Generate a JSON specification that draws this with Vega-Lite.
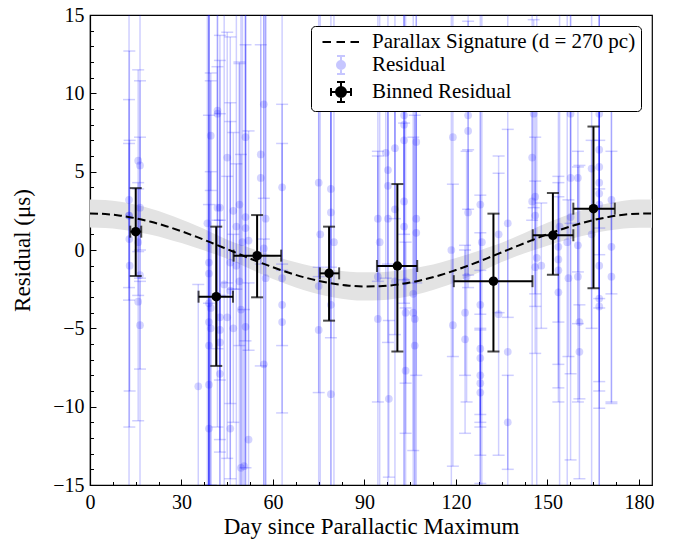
{
  "$schema": "https://vega.github.io/schema/vega-lite/v6.json",
  "width": 562,
  "height": 470,
  "autosize": {"type": "none"},
  "padding": {"left": 90, "top": 15, "right": 21, "bottom": 57},
  "background": "white",
  "config": {
    "view": {"stroke": "black", "strokeWidth": 1.2},
    "font": "'Liberation Serif', serif",
    "axis": {
      "labelFont": "'Liberation Serif', serif", "titleFont": "'Liberation Serif', serif",
      "labelFontSize": 20, "titleFontSize": 23, "titleFontWeight": "normal",
      "labelColor": "black", "titleColor": "black", "domainColor": "black", "tickColor": "black",
      "grid": false, "labelFlush": false, "labelOverlap": false, "domainWidth": 1.2, "tickWidth": 1
    },
    "legend": {
      "labelFont": "'Liberation Serif', serif", "labelFontSize": 21, "labelColor": "black", "labelLimit": 500,
      "strokeColor": "black", "fillColor": "white", "cornerRadius": 4, "padding": 5,
      "rowPadding": 0, "symbolStrokeWidth": 2, "labelOffset": 20, "symbolSize": 400, "symbolOffset": 14
    }
  },
  "resolve": {"axis": {"x": "independent", "y": "independent"}},
  "datasets": {
    "curve": [
      {"t": 0, "v": 2.33, "lo": 1.43, "hi": 3.23},
      {"t": 5, "v": 2.296, "lo": 1.4, "hi": 3.19},
      {"t": 10, "v": 2.193, "lo": 1.311, "hi": 3.075},
      {"t": 15, "v": 2.026, "lo": 1.165, "hi": 2.887},
      {"t": 20, "v": 1.8, "lo": 0.968, "hi": 2.632},
      {"t": 25, "v": 1.52, "lo": 0.724, "hi": 2.316},
      {"t": 30, "v": 1.195, "lo": 0.441, "hi": 1.949},
      {"t": 35, "v": 0.835, "lo": 0.127, "hi": 1.543},
      {"t": 40, "v": 0.45, "lo": -0.208, "hi": 1.108},
      {"t": 45, "v": 0.052, "lo": -0.555, "hi": 0.659},
      {"t": 50, "v": -0.347, "lo": -0.992, "hi": 0.298},
      {"t": 55, "v": -0.737, "lo": -1.432, "hi": -0.042},
      {"t": 60, "v": -1.104, "lo": -1.846, "hi": -0.362},
      {"t": 65, "v": -1.439, "lo": -2.224, "hi": -0.654},
      {"t": 70, "v": -1.73, "lo": -2.553, "hi": -0.907},
      {"t": 75, "v": -1.973, "lo": -2.827, "hi": -1.119},
      {"t": 80, "v": -2.155, "lo": -3.033, "hi": -1.277},
      {"t": 85, "v": -2.276, "lo": -3.169, "hi": -1.383},
      {"t": 90, "v": -2.328, "lo": -3.228, "hi": -1.428},
      {"t": 95, "v": -2.311, "lo": -3.209, "hi": -1.413},
      {"t": 100, "v": -2.226, "lo": -3.113, "hi": -1.339},
      {"t": 105, "v": -2.075, "lo": -2.942, "hi": -1.208},
      {"t": 110, "v": -1.863, "lo": -2.703, "hi": -1.023},
      {"t": 115, "v": -1.595, "lo": -2.4, "hi": -0.79},
      {"t": 120, "v": -1.28, "lo": -2.045, "hi": -0.515},
      {"t": 125, "v": -0.927, "lo": -1.646, "hi": -0.208},
      {"t": 130, "v": -0.547, "lo": -1.217, "hi": 0.123},
      {"t": 135, "v": -0.152, "lo": -0.772, "hi": 0.468},
      {"t": 140, "v": 0.244, "lo": -0.387, "hi": 0.875},
      {"t": 145, "v": 0.633, "lo": -0.048, "hi": 1.314},
      {"t": 150, "v": 1.004, "lo": 0.275, "hi": 1.733},
      {"t": 155, "v": 1.344, "lo": 0.571, "hi": 2.117},
      {"t": 160, "v": 1.647, "lo": 0.835, "hi": 2.459},
      {"t": 165, "v": 1.903, "lo": 1.058, "hi": 2.748},
      {"t": 170, "v": 2.109, "lo": 1.237, "hi": 2.981},
      {"t": 175, "v": 2.256, "lo": 1.365, "hi": 3.147},
      {"t": 180, "v": 2.32, "lo": 1.421, "hi": 3.219},
      {"t": 184.3, "v": 2.325, "lo": 1.425, "hi": 3.225}
    ],
    "bin": [
      {"x": 15.0, "y": 1.17, "ylo": -1.66, "yhi": 3.95, "xlo": 13.2, "xhi": 16.8},
      {"x": 41.4, "y": -2.98, "ylo": -7.4, "yhi": 1.49, "xlo": 35.6, "xhi": 46.9},
      {"x": 54.8, "y": -0.36, "ylo": -3.02, "yhi": 2.23, "xlo": 47.1, "xhi": 62.7},
      {"x": 78.4, "y": -1.49, "ylo": -4.51, "yhi": 1.49, "xlo": 75.4, "xhi": 81.7},
      {"x": 100.8, "y": -1.02, "ylo": -6.48, "yhi": 4.21, "xlo": 94.1, "xhi": 107.3},
      {"x": 132.3, "y": -1.99, "ylo": -6.48, "yhi": 2.32, "xlo": 119.3, "xhi": 145.1},
      {"x": 151.8, "y": 0.94, "ylo": -1.58, "yhi": 3.64, "xlo": 145.2, "xhi": 158.5},
      {"x": 165.1, "y": 2.64, "ylo": -2.44, "yhi": 7.88, "xlo": 158.5, "xhi": 172.1}
    ],
    "res": [
      {"x": 12.8, "y": 3.2, "e": 6.4}, {"x": 12.8, "y": 2.2, "e": 20}, {"x": 12.9, "y": 0.7, "e": 12},
      {"x": 13.0, "y": -1.0, "e": 8}, {"x": 12.8, "y": 2.2, "e": 4.6}, {"x": 15.8, "y": 5.7, "e": 5.8},
      {"x": 16.4, "y": 5.4, "e": 5.4}, {"x": 16.4, "y": 2.7, "e": 4.5}, {"x": 16.4, "y": -1.6, "e": 20},
      {"x": 15.8, "y": -3.3, "e": 7.6}, {"x": 16.4, "y": -4.8, "e": 2.8}, {"x": 15.8, "y": 0.5, "e": 3.4},
      {"x": 35.5, "y": -8.7, "e": 6.5}, {"x": 38.5, "y": 1.7, "e": 25}, {"x": 39.0, "y": -0.8, "e": 20},
      {"x": 39.0, "y": -1.5, "e": 30}, {"x": 39.0, "y": -3.4, "e": 12}, {"x": 39.0, "y": -4.6, "e": 25},
      {"x": 39.0, "y": -6.1, "e": 9}, {"x": 39.0, "y": -8.6, "e": 30}, {"x": 39.0, "y": -11.4, "e": 8},
      {"x": 39.6, "y": -3.7, "e": 15}, {"x": 39.6, "y": -5.0, "e": 10}, {"x": 41.8, "y": 8.9, "e": 7},
      {"x": 41.8, "y": 8.7, "e": 20}, {"x": 39.6, "y": 7.3, "e": 3.5}, {"x": 41.8, "y": 2.7, "e": 9},
      {"x": 42.6, "y": 2.7, "e": 11}, {"x": 42.6, "y": -5.1, "e": 7}, {"x": 42.6, "y": -5.9, "e": 18},
      {"x": 42.6, "y": -7.9, "e": 5}, {"x": 42.6, "y": -4.3, "e": 13}, {"x": 45.0, "y": 5.9, "e": 8},
      {"x": 45.0, "y": -4.3, "e": 9}, {"x": 46.0, "y": -0.8, "e": 9}, {"x": 46.0, "y": -2.6, "e": 12},
      {"x": 46.0, "y": -11.4, "e": 25}, {"x": 47.0, "y": 2.5, "e": 5}, {"x": 47.0, "y": -5.0, "e": 6},
      {"x": 48.0, "y": 1.5, "e": 4}, {"x": 49.0, "y": 2.9, "e": 9}, {"x": 49.0, "y": -2.0, "e": 14},
      {"x": 49.5, "y": -13.9, "e": 20}, {"x": 50.0, "y": 0.5, "e": 25}, {"x": 50.5, "y": -13.8, "e": 10},
      {"x": 51.0, "y": 7.2, "e": 13}, {"x": 51.0, "y": 2.1, "e": 16}, {"x": 51.0, "y": 1.4, "e": 22},
      {"x": 51.0, "y": -4.9, "e": 18}, {"x": 52.0, "y": 0.6, "e": 7}, {"x": 52.0, "y": -12.1, "e": 10},
      {"x": 49.5, "y": -3.8, "e": 25}, {"x": 48.0, "y": -1.0, "e": 30}, {"x": 44.0, "y": -2.2, "e": 20},
      {"x": 56.0, "y": 6.1, "e": 7}, {"x": 56.0, "y": 4.6, "e": 12}, {"x": 57.0, "y": 9.3, "e": 6},
      {"x": 57.0, "y": 0.1, "e": 18}, {"x": 57.6, "y": 2.0, "e": 25}, {"x": 57.0, "y": -7.3, "e": 8},
      {"x": 57.6, "y": -1.8, "e": 20},
      {"x": 63.0, "y": 4.0, "e": 5.3}, {"x": 63.0, "y": -1.8, "e": 8.6}, {"x": 63.0, "y": -3.5, "e": 2.6},
      {"x": 63.0, "y": -4.6, "e": 20},
      {"x": 75.0, "y": 4.3, "e": 6}, {"x": 75.0, "y": -2.3, "e": 18}, {"x": 75.0, "y": -5.1, "e": 4},
      {"x": 75.5, "y": 1.0, "e": 25}, {"x": 79.0, "y": 3.9, "e": 5}, {"x": 79.0, "y": 2.4, "e": 8},
      {"x": 79.0, "y": -3.5, "e": 25}, {"x": 79.0, "y": -9.2, "e": 20}, {"x": 80.0, "y": 0.5, "e": 20},
      {"x": 94.4, "y": 2.0, "e": 4}, {"x": 94.4, "y": -1.7, "e": 8}, {"x": 94.4, "y": -4.4, "e": 25},
      {"x": 95.0, "y": 0.5, "e": 25}, {"x": 97.0, "y": 6.2, "e": 8}, {"x": 97.7, "y": 5.1, "e": 6},
      {"x": 97.7, "y": 4.1, "e": 10}, {"x": 97.7, "y": 2.0, "e": 20}, {"x": 98.0, "y": -9.5, "e": 5},
      {"x": 100.0, "y": 6.5, "e": 4.5}, {"x": 100.0, "y": 2.6, "e": 8}, {"x": 100.0, "y": -2.0, "e": 25},
      {"x": 103.0, "y": 8.6, "e": 12}, {"x": 103.0, "y": 8.0, "e": 25}, {"x": 103.0, "y": 7.0, "e": 6},
      {"x": 103.0, "y": 3.1, "e": 5}, {"x": 103.0, "y": 1.5, "e": 20}, {"x": 103.5, "y": -4.0, "e": 4.5},
      {"x": 103.5, "y": -7.7, "e": 4}, {"x": 103.5, "y": -2.0, "e": 25}, {"x": 106.0, "y": -4.0, "e": 20},
      {"x": 106.0, "y": -2.8, "e": 10}, {"x": 106.5, "y": -6.1, "e": 18}, {"x": 107.0, "y": 6.9, "e": 9},
      {"x": 107.0, "y": 2.0, "e": 10}, {"x": 107.0, "y": 1.1, "e": 25}, {"x": 106.5, "y": -4.4, "e": 13},
      {"x": 119.0, "y": 7.2, "e": 14}, {"x": 119.0, "y": -4.8, "e": 9}, {"x": 118.5, "y": 0.0, "e": 25},
      {"x": 123.0, "y": -4.0, "e": 4}, {"x": 123.0, "y": -5.7, "e": 6}, {"x": 123.5, "y": -1.7, "e": 8},
      {"x": 124.0, "y": 8.6, "e": 6}, {"x": 124.0, "y": 7.6, "e": 10}, {"x": 124.0, "y": 2.4, "e": 4},
      {"x": 128.0, "y": 2.9, "e": 7}, {"x": 128.0, "y": -3.5, "e": 7}, {"x": 128.0, "y": -6.3, "e": 5},
      {"x": 128.0, "y": -6.9, "e": 8}, {"x": 128.0, "y": -8.0, "e": 3}, {"x": 128.0, "y": -8.5, "e": 25},
      {"x": 128.0, "y": -9.1, "e": 4}, {"x": 128.5, "y": 0.5, "e": 25}, {"x": 134.0, "y": -4.1, "e": 9},
      {"x": 134.0, "y": 1.0, "e": 5}, {"x": 137.0, "y": 1.7, "e": 6}, {"x": 137.0, "y": -6.5, "e": 25},
      {"x": 137.0, "y": -11.0, "e": 3},
      {"x": 145.0, "y": 5.9, "e": 4}, {"x": 145.0, "y": 3.1, "e": 20}, {"x": 145.5, "y": 8.7, "e": 6},
      {"x": 146.0, "y": 3.4, "e": 7}, {"x": 146.0, "y": 2.2, "e": 5}, {"x": 146.0, "y": -1.1, "e": 5.5},
      {"x": 146.5, "y": -0.5, "e": 25}, {"x": 148.0, "y": -1.0, "e": 4}, {"x": 153.6, "y": 0.2, "e": 9},
      {"x": 153.6, "y": -0.6, "e": 4}, {"x": 153.6, "y": -1.3, "e": 6}, {"x": 153.6, "y": -2.7, "e": 7},
      {"x": 154.0, "y": 1.5, "e": 20}, {"x": 156.9, "y": -1.8, "e": 5}, {"x": 157.6, "y": 8.7, "e": 7},
      {"x": 157.6, "y": 2.1, "e": 10}, {"x": 157.6, "y": 4.6, "e": 18}, {"x": 156.5, "y": 0.5, "e": 25},
      {"x": 160.0, "y": 4.6, "e": 6}, {"x": 160.0, "y": 0.3, "e": 5}, {"x": 160.0, "y": -1.7, "e": 8},
      {"x": 160.5, "y": -4.6, "e": 10}, {"x": 160.5, "y": -6.5, "e": 3}, {"x": 164.5, "y": 5.2, "e": 25},
      {"x": 164.5, "y": 1.0, "e": 6}, {"x": 167.0, "y": 8.7, "e": 9}, {"x": 167.0, "y": 6.4, "e": 5},
      {"x": 167.0, "y": 5.3, "e": 25}, {"x": 167.0, "y": 4.3, "e": 8}, {"x": 167.0, "y": 3.6, "e": 12},
      {"x": 167.0, "y": 2.9, "e": 6}, {"x": 167.0, "y": -1.0, "e": 8}, {"x": 167.0, "y": -3.1, "e": 7},
      {"x": 167.0, "y": -3.6, "e": 13}, {"x": 171.0, "y": 3.2, "e": 6}, {"x": 171.0, "y": 0.2, "e": 10},
      {"x": 171.0, "y": -1.7, "e": 8}
    ]
  },
  "layer": [
    {
      "data": {"name": "curve"},
      "mark": {"type": "area", "color": "#e3e3e3", "clip": true, "interpolate": "monotone"},
      "encoding": {
        "x": {"field": "t", "type": "quantitative",
          "scale": {"domain": [0, 184.3], "nice": false, "zero": false},
          "axis": {"title": "Day since Parallactic Maximum", "orient": "bottom",
            "values": [0, 30, 60, 90, 120, 150, 180],
            "labelOverlap": false, "tickSize": -6, "labelPadding": 13, "titlePadding": 3}},
        "y": {"field": "lo", "type": "quantitative",
          "scale": {"domain": [-15, 15], "nice": false, "zero": false},
          "axis": {"title": "Residual (μs)", "orient": "left",
            "values": [-15, -10, -5, 0, 5, 10, 15],
            "labelOverlap": false, "tickSize": -6, "labelPadding": 12, "titlePadding": 18}},
        "y2": {"field": "hi"}
      }
    },
    {
      "data": {"name": "res"},
      "mark": {"type": "errorbar", "clip": true, "color": "#0000ff", "opacity": 0.19, "thickness": 1.5, "ticks": true, "size": 12},
      "encoding": {
        "x": {"field": "x", "type": "quantitative",
          "axis": {"orient": "bottom", "title": null, "labels": false, "domain": false, "tickSize": -3.5,
            "values": [7.5, 15, 22.5, 37.5, 45, 52.5, 67.5, 75, 82.5, 97.5, 105, 112.5, 127.5, 135, 142.5, 157.5, 165, 172.5]}},
        "y": {"field": "y", "type": "quantitative",
          "axis": {"orient": "left", "title": null, "labels": false, "domain": false, "tickSize": -3.5,
            "values": [-14, -13, -12, -11, -9, -8, -7, -6, -4, -3, -2, -1, 1, 2, 3, 4, 6, 7, 8, 9, 11, 12, 13, 14]}},
        "yError": {"field": "e"}
      }
    },
    {
      "data": {"name": "res"},
      "mark": {"type": "circle", "color": "#0000ff", "opacity": 0.17, "size": 60, "clip": true},
      "encoding": {
        "x": {"field": "x", "type": "quantitative", "axis": null},
        "y": {"field": "y", "type": "quantitative", "axis": null}
      }
    },
    {
      "data": {"name": "curve"},
      "mark": {"type": "line", "color": "black", "strokeWidth": 2, "strokeDash": [8, 4], "interpolate": "monotone", "clip": true},
      "encoding": {
        "x": {"field": "t", "type": "quantitative", "axis": null},
        "y": {"field": "v", "type": "quantitative", "axis": null}
      }
    },
    {
      "data": {"name": "bin"},
      "mark": {"type": "errorbar", "color": "black", "thickness": 2, "ticks": true, "size": 12},
      "encoding": {
        "x": {"field": "x", "type": "quantitative", "axis": null},
        "y": {"field": "ylo", "type": "quantitative", "axis": null},
        "y2": {"field": "yhi"}
      }
    },
    {
      "data": {"name": "bin"},
      "mark": {"type": "errorbar", "color": "black", "thickness": 2, "ticks": true, "size": 12},
      "encoding": {
        "y": {"field": "y", "type": "quantitative", "axis": null},
        "x": {"field": "xlo", "type": "quantitative", "axis": null},
        "x2": {"field": "xhi"}
      }
    },
    {
      "data": {"name": "bin"},
      "mark": {"type": "circle", "color": "black", "opacity": 1, "size": 90},
      "encoding": {
        "x": {"field": "x", "type": "quantitative", "axis": null},
        "y": {"field": "y", "type": "quantitative", "axis": null}
      }
    },
    {
      "data": {"values": [{"s": "Parallax Signature (d = 270 pc)"}, {"s": "Residual"}, {"s": "Binned Residual"}]},
      "transform": [{"filter": "false"}],
      "mark": {"type": "point", "filled": true, "size": 400, "strokeWidth": 2, "opacity": 1},
      "encoding": {
        "shape": {"field": "s", "type": "nominal",
          "scale": {"domain": ["Parallax Signature (d = 270 pc)", "Residual", "Binned Residual"],
            "range": [
              "M-1.85,0H-1.0M-0.45,0H0.4M0.95,0H1.8",
              "M-0.4,0A0.4,0.4 0 1,0 0.4,0A0.4,0.4 0 1,0 -0.4,0ZM0,-0.9V0.9M-0.4,-0.9H0.4M-0.4,0.9H0.4",
              "M-0.5,0A0.5,0.5 0 1,0 0.5,0A0.5,0.5 0 1,0 -0.5,0ZM0,-1V1M-1,0H1M-0.4,-1H0.4M-0.4,1H0.4M-1,-0.4V0.4M1,-0.4V0.4"
            ]},
          "legend": {"title": null, "orient": "top-right", "offset": 11}},
        "fill": {"field": "s", "type": "nominal",
          "scale": {"domain": ["Parallax Signature (d = 270 pc)", "Residual", "Binned Residual"], "range": ["black", "#c6c6ff", "black"]},
          "legend": {"title": null, "orient": "top-right", "offset": 11}},
        "stroke": {"field": "s", "type": "nominal",
          "scale": {"domain": ["Parallax Signature (d = 270 pc)", "Residual", "Binned Residual"], "range": ["black", "#c6c6ff", "black"]},
          "legend": {"title": null, "orient": "top-right", "offset": 11}}
      }
    }
  ]
}
